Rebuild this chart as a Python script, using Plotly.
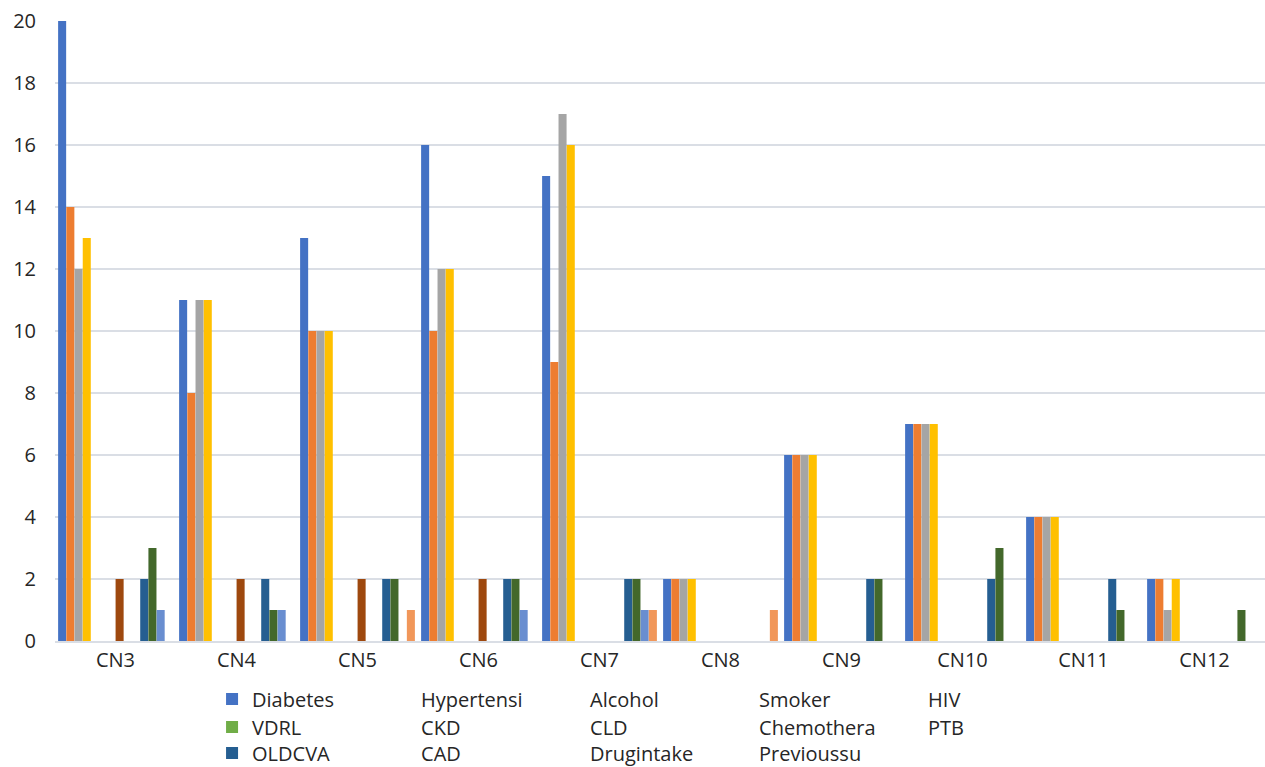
import plotly.graph_objects as go

# Categories on the x axis
categories = ["CN3", "CN4", "CN5", "CN6", "CN7", "CN8", "CN9", "CN10", "CN11", "CN12"]

# Counts per risk factor, one value per category
diabetes = [20, 11, 13, 16, 15, 2, 6, 7, 4, 2]
hypertensi = [14, 8, 10, 10, 9, 2, 6, 7, 4, 2]
alcohol = [12, 11, 10, 12, 17, 2, 6, 7, 4, 1]
smoker = [13, 11, 10, 12, 16, 2, 6, 7, 4, 2]
hiv = [0, 0, 0, 0, 0, 0, 0, 0, 0, 0]
vdrl = [0, 0, 0, 0, 0, 0, 0, 0, 0, 0]
ckd = [0, 0, 0, 0, 0, 0, 0, 0, 0, 0]
cld = [2, 2, 2, 2, 0, 0, 0, 0, 0, 0]
chemothera = [0, 0, 0, 0, 0, 0, 0, 0, 0, 0]
ptb = [0, 0, 0, 0, 0, 0, 0, 0, 0, 0]
oldcva = [2, 2, 2, 2, 2, 0, 2, 2, 2, 0]
cad = [3, 1, 2, 2, 2, 0, 2, 3, 1, 1]
drugintake = [1, 1, 0, 1, 1, 0, 0, 0, 0, 0]
previoussu = [0, 0, 1, 0, 1, 1, 0, 0, 0, 0]

series_names = ["Diabetes", "Hypertensi", "Alcohol", "Smoker", "HIV",
                "VDRL", "CKD", "CLD", "Chemothera", "PTB",
                "OLDCVA", "CAD", "Drugintake", "Previoussu"]
series_values = [diabetes, hypertensi, alcohol, smoker, hiv,
                 vdrl, ckd, cld, chemothera, ptb,
                 oldcva, cad, drugintake, previoussu]
series_colors = ["#4472C4", "#ED7D31", "#A5A5A5", "#FFC000", "#5B9BD5",
                 "#70AD47", "#264478", "#9E480E", "#636363", "#997300",
                 "#255E91", "#43682B", "#698ED0", "#F1975A"]

FONT = "Open Sans"
TEXT = "#262626"
GRID = "#DADEE5"

legend_ids = ["legend", "legend2", "legend3"]

fig = go.Figure()
for i, (name, vals, color) in enumerate(zip(series_names, series_values, series_colors)):
    row = legend_ids[i // 5]
    with_swatch = (i % 5 == 0)
    fig.add_trace(go.Bar(
        name=name, x=categories, y=vals,
        marker=dict(color=color, line=dict(width=0)),
        legendgroup=name, legend=row, showlegend=with_swatch,
    ))
    if not with_swatch:
        # text-only legend entry tied to the bar trace through its group
        fig.add_trace(go.Scatter(
            name=name, x=[None], y=[None], mode="lines",
            line=dict(width=0, color=color),
            legendgroup=name, legend=row, showlegend=True, hoverinfo="skip",
        ))

legend_common = dict(
    orientation="h", xanchor="left", yanchor="middle", x=0.1298,
    font=dict(family=FONT, size=20, color=TEXT),
    bgcolor="rgba(0,0,0,0)", borderwidth=0,
    entrywidth=124, entrywidthmode="pixels", traceorder="normal",
    itemclick="toggle",
)

fig.update_layout(
    width=1265, height=767,
    margin=dict(l=55, r=0, t=21, b=126, autoexpand=False),
    paper_bgcolor="white", plot_bgcolor="white",
    barmode="group", bargap=0.05, bargroupgap=0.02,
    font=dict(family=FONT, size=20, color=TEXT),
    xaxis=dict(
        type="category", categoryorder="array", categoryarray=categories,
        showgrid=False, showline=True, linecolor=GRID, linewidth=2,
        ticks="", tickfont=dict(family=FONT, size=20, color=TEXT),
        fixedrange=True,
    ),
    yaxis=dict(
        range=[0, 20], dtick=2, tick0=0,
        showgrid=True, gridcolor=GRID, gridwidth=1.5,
        zeroline=False, showline=False, ticks="",
        tickfont=dict(family=FONT, size=20, color=TEXT),
        ticklabelstandoff=18,
    ),
    legend=dict(legend_common, y=-0.0935),
    legend2=dict(legend_common, y=-0.1387),
    legend3=dict(legend_common, y=-0.1806),
)

fig.write_html("out.html")
